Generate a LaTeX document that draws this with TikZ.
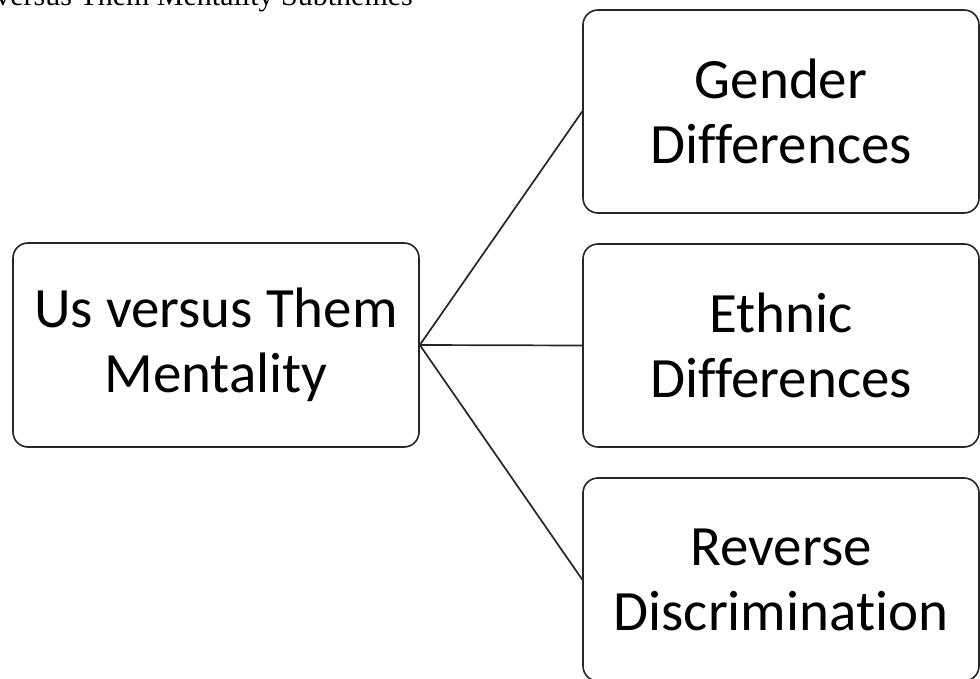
\documentclass[tikz,border=0pt]{standalone}
\usepackage{fontspec}
\setmainfont{Carlito}[Ligatures={NoCommon}]
\newfontfamily\captionfont{Liberation Serif}
\begin{document}
\begin{tikzpicture}[x=1pt,y=-1pt,
  themebox/.style={draw=black!85, line width=1.6pt, rounded corners=15pt,
    inner sep=0pt, align=center, font=\fontsize{57}{65}\selectfont},
  branch/.style={draw=black!85, line width=1.7pt}]
  \useasboundingbox (0,0) rectangle (980,679);
  \clip (0,0) rectangle (980,679);
  \fill[white] (0,0) rectangle (980,679);

  % caption, partly above the page edge
  \node[anchor=base east, inner sep=0pt, font=\captionfont\fontsize{30}{34}\selectfont]
    (caption) at (413,6) {Us versus Them Mentality Subthemes};

  % main theme
  \node[themebox, minimum width=406pt, minimum height=204pt] (main) at (216,345)
    {Us versus Them\\Mentality};

  % subthemes
  \node[themebox, minimum width=396pt, minimum height=203pt] (gender) at (781,111.5)
    {Gender\\Differences};
  \node[themebox, minimum width=396pt, minimum height=203pt] (ethnic) at (781,345.5)
    {Ethnic\\Differences};
  \node[themebox, minimum width=396pt, minimum height=203pt] (reverse) at (781,579.5)
    {Reverse\\Discrimination};

  % connectors
  \draw[branch] (main.east) -- (gender.west);
  \draw[branch] (main.east) -- (ethnic.west);
  \draw[branch] (main.east) -- (reverse.west);
\end{tikzpicture}
\end{document}
